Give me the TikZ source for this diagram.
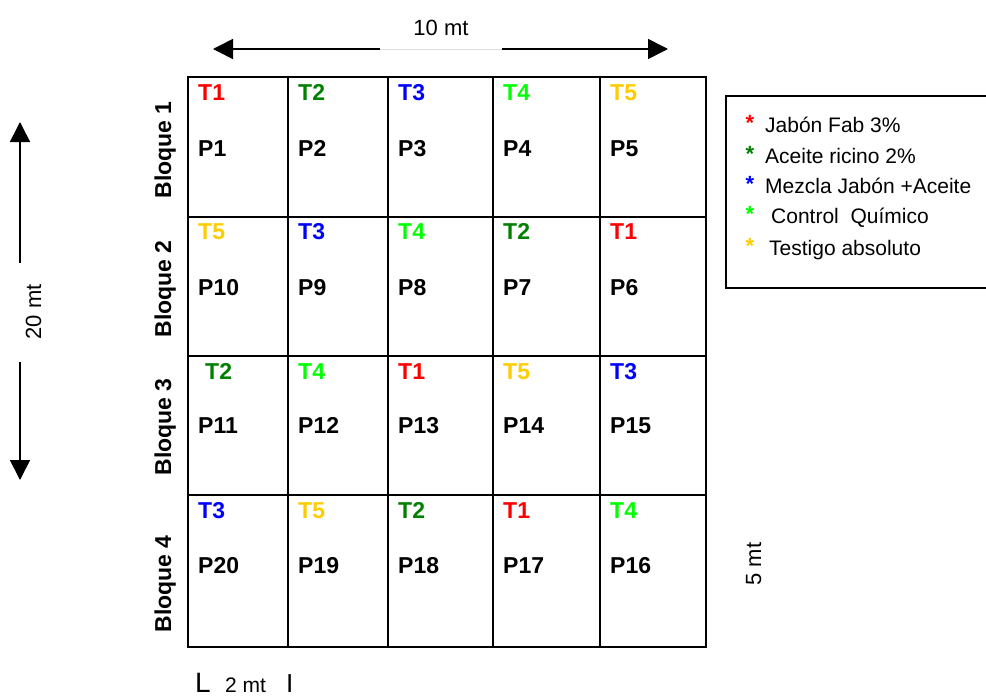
\documentclass[tikz,border=0pt]{standalone}
\usepackage{fontspec}
\setmainfont{Liberation Sans}
\usepackage{xcolor}
\usepackage{tikz}
\usetikzlibrary{arrows.meta}

\definecolor{rojo}{RGB}{255,0,0}
\definecolor{verde}{RGB}{0,128,0}
\definecolor{azul}{RGB}{0,0,255}
\definecolor{lima}{RGB}{0,255,0}
\definecolor{oro}{RGB}{255,204,0}

\begin{document}
\begin{tikzpicture}[x=1pt,y=-1pt,
  trat/.style={anchor=base west,inner sep=0pt,font=\bfseries\fontsize{23}{27}\selectfont},
  parc/.style={trat,text=black},
  bloque/.style={rotate=90,anchor=base,inner sep=0pt,font=\bfseries\fontsize{23}{27}\selectfont},
  medida/.style={inner sep=0pt,font=\fontsize{22}{26}\selectfont},
  ley/.style={anchor=base west,inner sep=0pt,font=\fontsize{21}{25}\selectfont},
  estrella/.style={ley,font=\bfseries\fontsize{22}{26}\selectfont},
  flecha/.style={line width=1.6pt,-{Triangle[length=20pt,width=20pt]}}]
\useasboundingbox (0,0) rectangle (986,696);

% parcelas
\draw[line width=2.2pt] (188,77) rectangle (706,647);
\foreach \x in {288,388,493,600} \draw[line width=2.2pt] (\x,77)--(\x,647);
\foreach \y in {217,356,495} \draw[line width=2.2pt] (188,\y)--(706,\y);

% bloque 1
\foreach \x/\d/\t/\c/\p in {188/10/1/rojo/1,288/10/2/verde/2,388/10/3/azul/3,493/10/4/lima/4,600/10/5/oro/5}
  {\node[trat,text=\c] (t\p) at (\x+\d,100) {T\t};
   \node[parc] (p\p) at (\x+10,156) {P\p};}
% bloque 2
\foreach \x/\d/\t/\c/\p in {188/10/5/oro/10,288/10/3/azul/9,388/10/4/lima/8,493/10/2/verde/7,600/10/1/rojo/6}
  {\node[trat,text=\c] (t\p) at (\x+\d,239) {T\t};
   \node[parc] (p\p) at (\x+10,295) {P\p};}
% bloque 3
\foreach \x/\d/\t/\c/\p in {188/17/2/verde/11,288/10/4/lima/12,388/10/1/rojo/13,493/10/5/oro/14,600/10/3/azul/15}
  {\node[trat,text=\c] (t\p) at (\x+\d,379) {T\t};
   \node[parc] (p\p) at (\x+10,433) {P\p};}
% bloque 4
\foreach \x/\d/\t/\c/\p in {188/10/3/azul/20,288/10/5/oro/19,388/10/2/verde/18,493/10/1/rojo/17,600/10/4/lima/16}
  {\node[trat,text=\c] (t\p) at (\x+\d,518) {T\t};
   \node[parc] (p\p) at (\x+10,573) {P\p};}

\node[bloque] (b1) at (171,150) {Bloque 1};
\node[bloque] (b2) at (171,289) {Bloque 2};
\node[bloque] (b3) at (171,427) {Bloque 3};
\node[bloque] (b4) at (171,584) {Bloque 4};

% medidas
\coordinate (ai) at (213,49);
\coordinate (ad) at (668,49);
\coordinate (ac1) at (380,49);
\coordinate (ac2) at (502,49);
\draw[flecha] (ac1)--(ai);
\draw[flecha] (ac2)--(ad);
\draw[gray!25,line width=0.8pt] (ac1)--(ac2);
\node[medida,anchor=base] (diez) at (441,35) {10 mt};

\coordinate (fs) at (20,122);
\coordinate (fi) at (20,480);
\coordinate (fc1) at (20,263);
\coordinate (fc2) at (20,362);
\draw[flecha] (fc1)--(fs);
\draw[flecha] (fc2)--(fi);
\node[medida,rotate=90,anchor=base] (veinte) at (41,312) {20 mt};

\node[medida,rotate=90,anchor=base] (cinco) at (761,564) {5 mt};

\node[anchor=base west,inner sep=0pt,font=\fontsize{28}{32}\selectfont] (ele) at (195,692) {L};
\node[medida,anchor=base west,font=\fontsize{21}{25}\selectfont] (dos) at (225,692) {2 mt};
\node[anchor=base west,inner sep=0pt,font=\fontsize{26}{30}\selectfont] (barra) at (286,692) {I};

% leyenda
\draw[line width=1.6pt] (986,96) -| (726,288) -- (986,288);
\node[estrella,text=rojo] (s1) at (745.5,130) {*};
\node[ley] (l1) at (765,132) {Jabón Fab 3\%};
\node[estrella,text=verde] (s2) at (745.5,161) {*};
\node[ley] (l2) at (765,163) {Aceite ricino 2\%};
\node[estrella,text=azul] (s3) at (745.5,191) {*};
\node[ley] (l3) at (765,193) {Mezcla Jabón +Aceite};
\node[estrella,text=lima] (s4) at (745.5,221) {*};
\node[ley] (l4) at (771,223) {Control\ \ Químico};
\node[estrella,text=oro] (s5) at (745.5,253) {*};
\node[ley] (l5) at (769,255) {Testigo absoluto};
\end{tikzpicture}
\end{document}
